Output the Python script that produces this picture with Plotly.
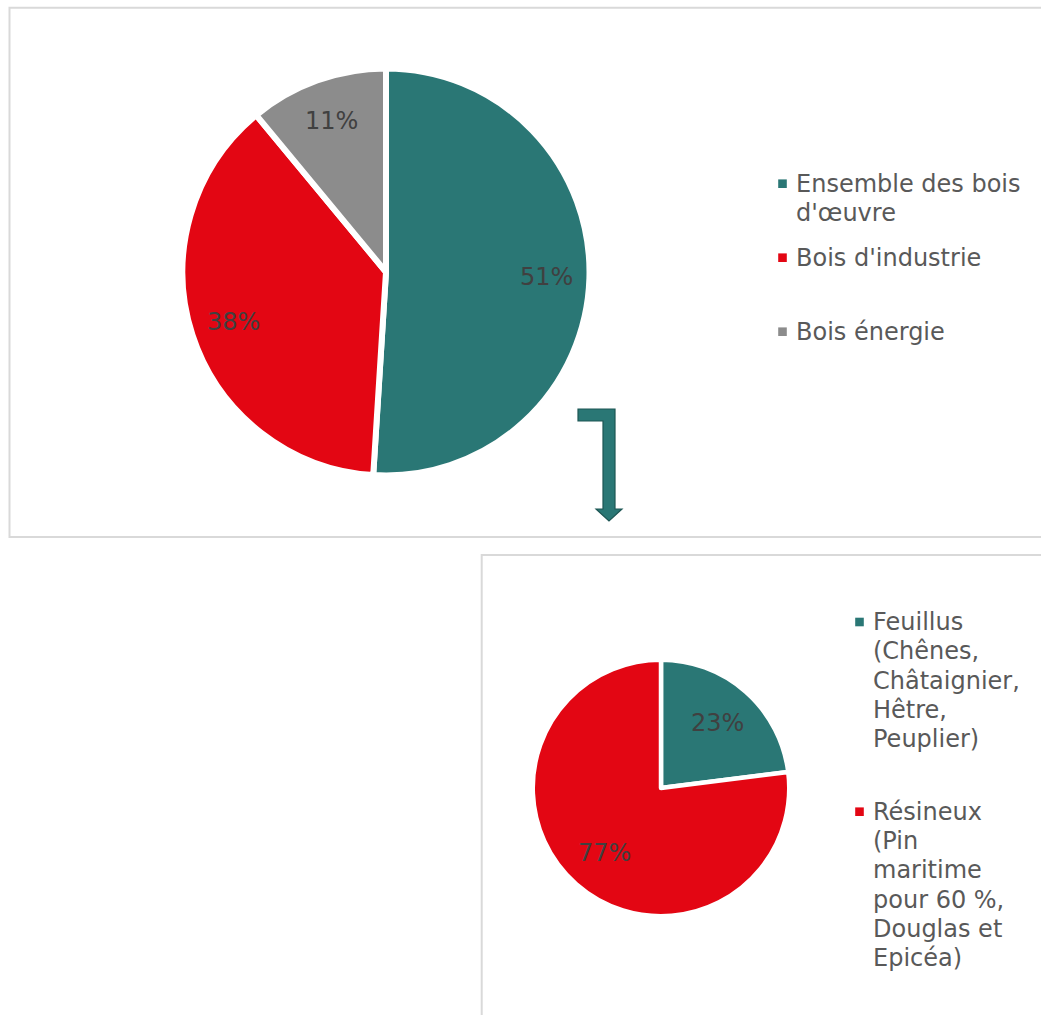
import math
import plotly.graph_objects as go

W, H = 1041, 1015

# ---------------- data ----------------
top_labels = ["Ensemble des bois<br>d'œuvre", "Bois d'industrie", "Bois énergie"]
top_values = [51, 38, 11]
top_colors = ["#2a7775", "#e30613", "#8c8c8c"]

bottom_labels = [
    "Feuillus<br>(Chênes,<br>Châtaignier,<br>Hêtre,<br>Peuplier)",
    "Résineux<br>(Pin<br>maritime<br>pour 60 %,<br>Douglas et<br>Epicéa)",
]
bottom_values = [23, 77]
bottom_colors = ["#2a7775", "#e30613"]

# ---------------- layout helpers ----------------
FONT = "DejaVu Sans, Verdana, sans-serif"
LABEL_COLOR = "#404040"
LEGEND_COLOR = "#595959"
FS = 24
LINE_H = 29.3


def pxx(x):
    return x / W


def pxy(y):
    return 1 - y / H


fig = go.Figure()
annotations = []
shapes = []

# frames
shapes.append(dict(type="rect", xref="paper", yref="paper",
                   x0=pxx(9.5), x1=pxx(W + 20), y0=pxy(7.7), y1=pxy(537),
                   line=dict(color="#d9d9d9", width=2), fillcolor="rgba(0,0,0,0)", layer="below"))
shapes.append(dict(type="rect", xref="paper", yref="paper",
                   x0=pxx(481.7), x1=pxx(W + 20), y0=pxy(555), y1=pxy(H + 20),
                   line=dict(color="#d9d9d9", width=2), fillcolor="rgba(0,0,0,0)", layer="below"))

# bent arrow linking the two pies
arrow_pts = [(578, 409), (615, 409), (615, 509), (622, 509), (609, 521),
             (596, 509), (603, 509), (603, 421), (578, 421)]
path = "M " + " L ".join(f"{pxx(x):.5f},{pxy(y):.5f}" for x, y in arrow_pts) + " Z"
shapes.append(dict(type="path", xref="paper", yref="paper", path=path,
                   fillcolor="#2a7775", line=dict(color="#1d5654", width=1.2)))


def add_pie(labels, values, colors, cx, cy, r_vis, lw, inset, name):
    r = r_vis + lw / 2
    fig.add_trace(go.Pie(
        labels=[l.replace("<br>", " ") for l in labels], values=values, name=name,
        marker=dict(colors=colors, line=dict(color="white", width=lw)),
        sort=False, direction="clockwise", rotation=0,
        textinfo="none", showlegend=False,
        domain=dict(x=[pxx(cx - r), pxx(cx + r)], y=[pxy(cy + r), pxy(cy - r)]),
        hovertemplate="%{label}: %{percent}<extra></extra>",
    ))
    total = sum(values)
    cum = 0
    for v in values:
        mid = (cum + v / 2) / total * 2 * math.pi
        cum += v
        d = r_vis - inset
        x = cx + d * math.sin(mid)
        y = cy - d * math.cos(mid)
        annotations.append(dict(x=pxx(x), y=pxy(y), xref="paper", yref="paper",
                                text=f"{round(v / total * 100)}%", showarrow=False,
                                xanchor="center", yanchor="middle",
                                font=dict(family=FONT, size=FS, color=LABEL_COLOR)))


def add_legend(labels, colors, sq_x, text_x, item_ys):
    for lab, col, y0 in zip(labels, colors, item_ys):
        s = 4.3
        shapes.append(dict(type="rect", xref="paper", yref="paper",
                           x0=pxx(sq_x - s), x1=pxx(sq_x + s), y0=pxy(y0 + s), y1=pxy(y0 - s),
                           fillcolor=col, line=dict(width=0)))
        for i, line in enumerate(lab.split("<br>")):
            annotations.append(dict(x=pxx(text_x), y=pxy(y0 + i * LINE_H), xref="paper", yref="paper",
                                    text=line, showarrow=False, xanchor="left", yanchor="middle",
                                    font=dict(family=FONT, size=FS, color=LEGEND_COLOR)))


add_pie(top_labels, top_values, top_colors, cx=386, cy=272, r_vis=200.5, lw=6, inset=40, name="top")
add_pie(bottom_labels, bottom_values, bottom_colors, cx=661, cy=788, r_vis=126, lw=4.5, inset=40, name="bottom")

add_legend(top_labels, top_colors, sq_x=782.5, text_x=794, item_ys=[183.7, 257.7, 331.7])
add_legend(bottom_labels, bottom_colors, sq_x=859.5, text_x=871, item_ys=[622, 811.7])

fig.update_layout(
    width=W, height=H, autosize=False,
    margin=dict(l=0, r=0, t=0, b=0),
    paper_bgcolor="white", plot_bgcolor="white",
    shapes=shapes, annotations=annotations,
    font=dict(family=FONT, color=LEGEND_COLOR),
)

fig.write_html("out.html")
